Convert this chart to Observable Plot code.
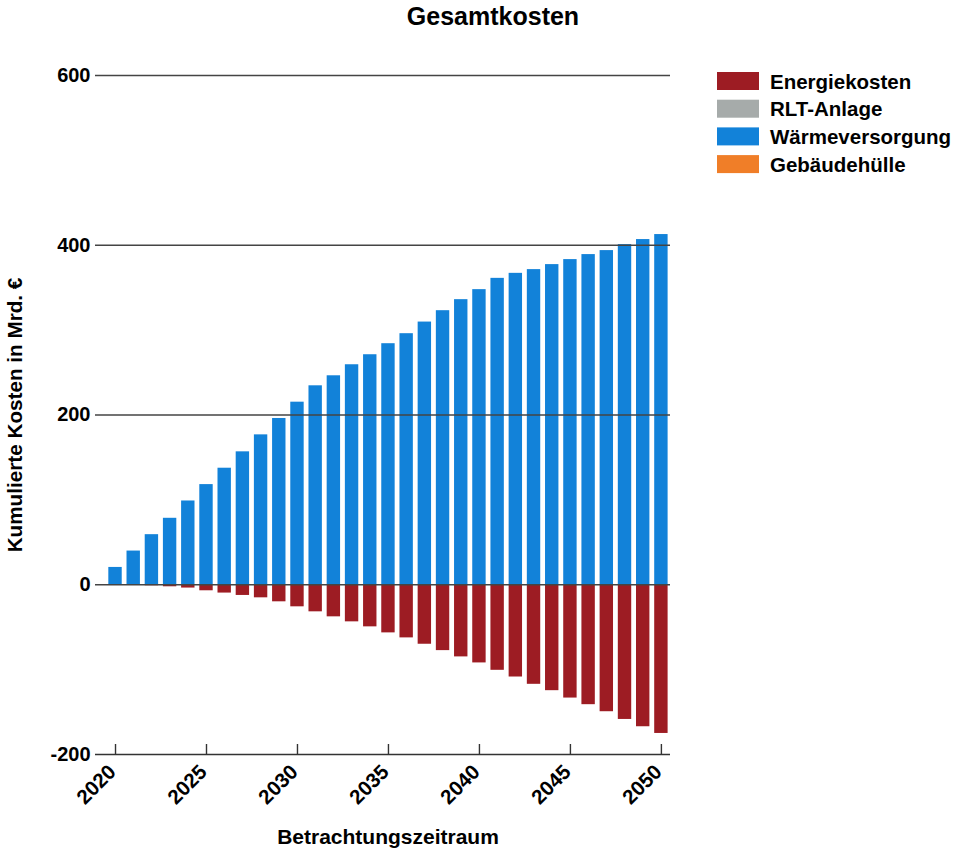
<!DOCTYPE html>
<html><head><meta charset="utf-8">
<script src="https://cdn.jsdelivr.net/npm/d3@7"></script>
<script src="https://cdn.jsdelivr.net/npm/@observablehq/plot@0.6"></script>
<style>
body{margin:0;background:#fff;}
#chart svg{display:block;}
</style>
</head><body>
<div id="chart"></div>
<script>
const years = [2020,2021,2022,2023,2024,2025,2026,2027,2028,2029,2030,2031,2032,2033,2034,2035,2036,2037,2038,2039,2040,2041,2042,2043,2044,2045,2046,2047,2048,2049,2050];
const energiekosten = [-0.5,-0.8,-1.2,-2.4,-3.9,-7.1,-9.8,-12.6,-15.4,-20.1,-26,-31.9,-37.8,-43.7,-49.6,-56.7,-62.6,-70.1,-77.6,-85,-92.1,-100.8,-108.7,-117.3,-124.8,-133.5,-141.3,-149.6,-158.7,-167.3,-175.2];
const rltAnlage = [0,0,0,0,0,0,0,0,0,0,0,0,0,0,0,0,0,0,0,0,0,0,0,0,0,0,0,0,0,0,0];
const waermeversorgung = [20.4,39.7,59,78.3,98.7,118,137.3,156.6,176.6,195.9,215.1,234.4,246.2,259.2,271,284,295.8,309.5,322.9,335.9,347.7,361,366.9,371.3,377.2,383.1,389,393.7,400.8,406.7,412.6];
const gebaeudehuelle = [0,0,0,0,0,0,0,0,0,0,0,0,0,0,0,0,0,0,0,0,0,0,0,0,0,0,0,0,0,0,0];
const seriesNames = ["Energiekosten","RLT-Anlage","Wärmeversorgung","Gebäudehülle"];
const seriesColors = ["#9d1c23","#a6abaa","#1282d9","#f07e28"];
const xTicks = [2020,2025,2030,2035,2040,2045,2050];
const yTicks = [-200,0,200,400,600];
const gridValues = [0,200,400,600];
const title = "Gesamtkosten";
const xLabel = "Betrachtungszeitraum";
const yLabel = "Kumulierte Kosten in Mrd. €";

const seriesValues = [energiekosten, rltAnlage, waermeversorgung, gebaeudehuelle];
const data = [];
seriesNames.forEach((s, i) => years.forEach((y, j) => data.push({year: y, series: s, value: seriesValues[i][j]})));

const W = 956, H = 856, mL = 95, mR = 286, mT = 75, mB = 102;
const font = "'Liberation Sans', Arial, sans-serif";

const plot = Plot.plot({
  width: W, height: H,
  marginLeft: mL, marginRight: mR, marginTop: mT, marginBottom: mB,
  style: {fontFamily: font, fontSize: "20px", fontWeight: "bold", color: "#000", background: "#fff"},
  x: {type: "linear", domain: [2018.9, 2050.5]},
  y: {domain: [-200, 600]},
  color: {domain: seriesNames, range: seriesColors},
  marks: [
    Plot.rectY(data.filter(d => d.value !== 0), {
      x1: d => d.year - 0.5, x2: d => d.year + 0.5, y: "value", fill: "series",
      insetLeft: 2.4, insetRight: 2.4
    }),
    Plot.ruleY(gridValues, {stroke: "#444", strokeWidth: 1.4}),
    Plot.ruleY([-200], {stroke: "#333", strokeWidth: 1.4}),
    Plot.ruleX(xTicks, {x: d => d, stroke: "#333", strokeWidth: 1.4, insetTop: H - mT - mB - 10}),
    Plot.axisY({ticks: yTicks, tickFormat: d => String(d), tickSize: 0, tickPadding: 5, label: null, fontSize: 20, fontWeight: "bold"}),
    Plot.axisX({ticks: xTicks, tickFormat: d => String(d), tickSize: 0, tickPadding: 14, dx: -3, tickRotate: -45, label: null, fontSize: 20.5, fontWeight: "bold"}),
    Plot.text([xLabel], {text: d => d, frameAnchor: "bottom", textAnchor: "middle", dy: 89, dx: 5, fontSize: 21, fontWeight: "bold"}),
    Plot.text([yLabel], {text: d => d, frameAnchor: "left", textAnchor: "middle", dx: -80, rotate: -90, fontSize: 20.7, fontWeight: "bold"})
  ]
});
document.getElementById("chart").appendChild(plot);

const svg = d3.select(plot);
svg.append("text").attr("x", 493).attr("y", 25).attr("text-anchor", "middle")
  .attr("font-size", 25).attr("font-weight", "bold").attr("font-family", font).attr("fill", "#000").text(title);
const leg = svg.append("g").attr("text-anchor", "start");
seriesNames.forEach((s, i) => {
  const top = 72 + i * 27.7;
  leg.append("rect").attr("x", 717).attr("y", top).attr("width", 42).attr("height", 18).attr("fill", seriesColors[i]);
  leg.append("text").attr("x", 770).attr("y", top + 16.5).attr("text-anchor", "start").attr("font-size", 20.5).attr("font-weight", "bold")
    .attr("font-family", font).attr("fill", "#000").text(s);
});
</script>
</body></html>
